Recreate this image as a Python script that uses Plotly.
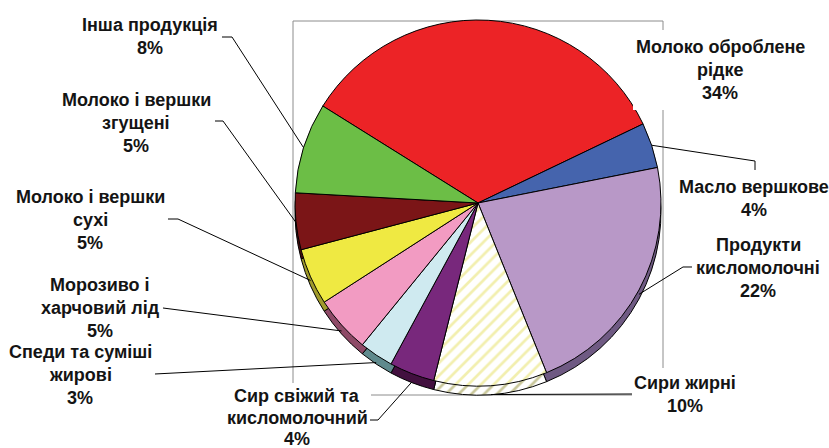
import math
import plotly.graph_objects as go

W, H = 829, 448

# ---------------- data ----------------
categories = ["Молоко оброблене рідке", "Масло вершкове", "Продукти кисломолочні", "Сири жирні",
              "Сир свіжий та кисломолочний", "Спеди та суміші жирові", "Морозиво і харчовий лід",
              "Молоко і вершки сухі", "Молоко і вершки згущені", "Інша продукція"]
shares = [34, 4, 22, 10, 4, 3, 5, 5, 5, 8]
label_lines = [["Молоко оброблене", "рідке"], ["Масло вершкове"], ["Продукти", "кисломолочні"],
               ["Сири жирні"], ["Сир свіжий та", "кисломолочний"], ["Спеди та суміші", "жирові"],
               ["Морозиво і", "харчовий лід"], ["Молоко і вершки", "сухі"],
               ["Молоко і вершки", "згущені"], ["Інша продукція"]]

# ---------------- styles ----------------
top_colors = ["#EC2326", "#4564AD", "#B898C7", "#FFFFF4", "#78287C",
              "#CFEAF0", "#F29BC2", "#EFE942", "#7B1517", "#6CBE46"]
rim_colors = ["#8A1214", "#2B3F70", "#6F5A83", "#9C9C8A", "#42103F",
              "#5F8A8D", "#8E4A67", "#A09A2B", "#4A0A0B", "#3F7226"]
pattern_shapes = ["", "", "", "/", "", "", "", "", "", ""]
top_pattern_fg = ["#000", "#000", "#000", "#F2EFAE", "#000", "#000", "#000", "#000", "#000", "#000"]
rim_pattern_fg = ["#000", "#000", "#000", "#C9C79A", "#000", "#000", "#000", "#000", "#000", "#000"]

# pie geometry in pixels
CX, CY, R, DEPTH = 478, 203, 183, 9
ROT = -58

# label block layout (center x, y of first line, line gap) in pixels
label_pos = [(720, 47, 23), (754, 187, 23), (758, 245, 23), (685, 383, 23), (297, 396, 21.5),
             (80, 352, 23), (100, 285, 23), (90, 197, 23), (136, 100, 23), (150, 25, 23)]
leader_elbows = [[], [(755, 170), (755, 161)], [(692, 267), (683, 267)], [(632, 394)],
                 [(370, 420), (378, 420)], [(155, 374)], [(163, 308)],
                 [(168, 219), (178, 219)], [(215, 121), (223, 121)], [(222, 37), (232, 37)]]
# white label boxes covering frame (x0, y0, x1, y1)
label_boxes = [(633, 30, 808, 110), (632, 368, 742, 418), (228, 383, 371, 448)]
frame = (293, 21, 663, 395)


def px(x):
    return x / W


def py(y):
    return 1 - y / H


def domain(shift):
    return dict(x=[px(CX - R), px(CX + R)], y=[py(CY + R + shift), py(CY - R + shift)])


fig = go.Figure()
# rim (3D depth) pie
fig.add_trace(go.Pie(
    labels=categories, values=shares, sort=False, direction="clockwise", rotation=ROT,
    textinfo="none", hoverinfo="skip", showlegend=False, domain=domain(DEPTH),
    marker=dict(colors=rim_colors, line=dict(color="#000000", width=1),
                pattern=dict(shape=pattern_shapes, fgcolor=rim_pattern_fg, size=9, solidity=0.3)),
))
# top pie
fig.add_trace(go.Pie(
    labels=categories, values=shares, sort=False, direction="clockwise", rotation=ROT,
    textinfo="none", hoverinfo="label+percent", showlegend=False, domain=domain(0),
    marker=dict(colors=top_colors, line=dict(color="#000000", width=1),
                pattern=dict(shape=pattern_shapes, fgcolor=top_pattern_fg, size=9, solidity=0.3)),
))

shapes = []
# plot-area frame
fx0, fy0, fx1, fy1 = frame
shapes.append(dict(type="rect", xref="paper", yref="paper", x0=px(fx0), y0=py(fy0), x1=px(fx1), y1=py(fy1),
                   line=dict(color="#8C8C8C", width=1), fillcolor="rgba(0,0,0,0)", layer="below"))
# label white boxes
for (bx0, by0, bx1, by1) in label_boxes:
    shapes.append(dict(type="rect", xref="paper", yref="paper", x0=px(bx0), y0=py(by0), x1=px(bx1), y1=py(by1),
                       line=dict(width=0), fillcolor="#FFFFFF", layer="above"))

total = sum(shares)
cum = 0
annotations = []
for i, v in enumerate(shares):
    mid = math.radians(ROT + 360 * (cum + v / 2) / total)
    cum += v
    ex = CX + R * math.sin(mid)
    ey = CY - R * math.cos(mid) + DEPTH * max(0.0, -math.cos(mid))
    pts = leader_elbows[i]
    if pts:
        path = "M " + " L ".join(f"{px(x):.5f},{py(y):.5f}" for x, y in pts + [(ex, ey)])
        shapes.append(dict(type="path", xref="paper", yref="paper", path=path,
                           line=dict(color="#000000", width=1), layer="above"))
    lines = label_lines[i] + [f"{round(100 * v / total)}%"]
    lx, ly, gap = label_pos[i]
    for k, t in enumerate(lines):
        annotations.append(dict(x=px(lx), y=py(ly + k * gap), xref="paper", yref="paper",
                                text=f"<b>{t}</b>", showarrow=False, xanchor="center", yanchor="middle",
                                font=dict(family="Liberation Sans, Arial, sans-serif", size=18, color="#141414")))

fig.update_layout(
    width=W, height=H, margin=dict(l=0, r=0, t=0, b=0),
    paper_bgcolor="#FFFFFF", plot_bgcolor="#FFFFFF", showlegend=False,
    shapes=shapes, annotations=annotations,
)

fig.write_html("out.html", config={"displayModeBar": False},
               post_script="document.body.style.margin='0px';document.body.style.overflow='hidden';")
